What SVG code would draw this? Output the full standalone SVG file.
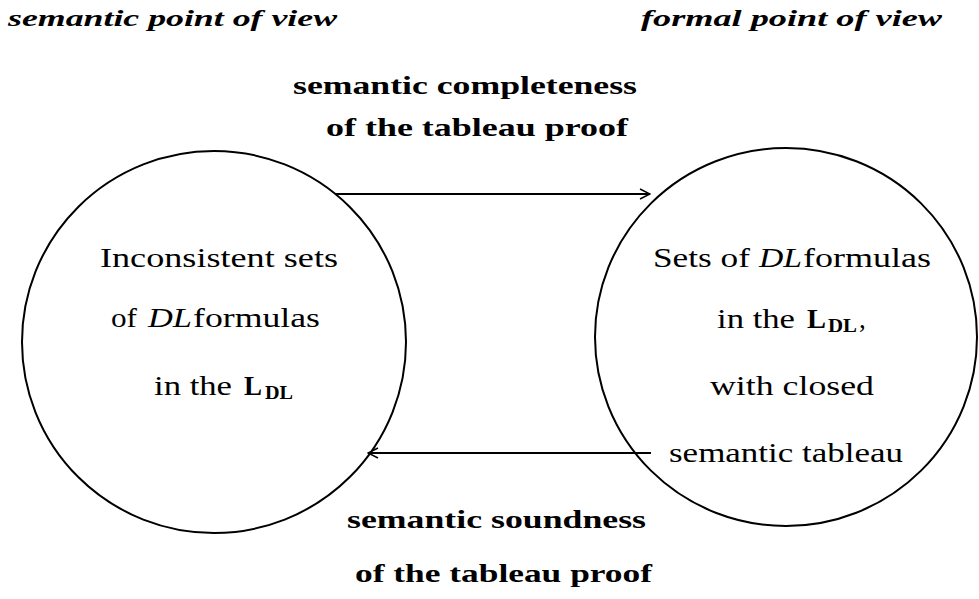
<svg xmlns="http://www.w3.org/2000/svg" width="979" height="599" viewBox="0 0 979 599">
<defs>
<style>
.hd{font-family:"Liberation Serif",serif;font-weight:bold;font-style:italic;font-size:24px;fill:#000}
.lb{font-family:"Liberation Serif",serif;font-weight:bold;font-size:25px;fill:#000}
.tx{font-family:"Liberation Serif",serif;font-size:27px;fill:#000}
.it{font-style:italic}
.bd{font-weight:bold}
.sub{font-weight:bold;font-size:18px}
.circ{fill:none;stroke:#000;stroke-width:2}
.conn{fill:none;stroke:#000;stroke-width:2}
</style>
<marker id="arr" viewBox="0 0 12 12" refX="11" refY="6" markerWidth="12" markerHeight="12" markerUnits="userSpaceOnUse" orient="auto">
<path d="M1,1 L11,6 L1,11" fill="none" stroke="#000" stroke-width="1.5"/>
</marker>
</defs>
<rect width="979" height="599" fill="#fff"/>
<g id="headers">
<text class="hd" x="8" y="26" textLength="329" lengthAdjust="spacingAndGlyphs">semantic point of view</text>
<text class="hd" x="641" y="26" textLength="301" lengthAdjust="spacingAndGlyphs">formal point of view</text>
</g>
<g id="left-node">
<ellipse class="circ" cx="214" cy="342" rx="192" ry="191"/>
<text class="tx" x="100" y="267" textLength="238" lengthAdjust="spacingAndGlyphs">Inconsistent sets</text>
<text class="tx" x="111" y="327" textLength="26" lengthAdjust="spacingAndGlyphs">of</text>
<text class="tx it" x="148" y="327" textLength="44" lengthAdjust="spacingAndGlyphs">DL</text>
<text class="tx" x="193" y="327" textLength="127" lengthAdjust="spacingAndGlyphs">formulas</text>
<text class="tx" x="154" y="395" textLength="78" lengthAdjust="spacingAndGlyphs">in the</text>
<text class="tx bd" x="244" y="395" textLength="18" lengthAdjust="spacingAndGlyphs">L</text>
<text class="tx sub" x="265" y="399" textLength="28" lengthAdjust="spacingAndGlyphs">DL</text>
</g>
<g id="right-node">
<ellipse class="circ" cx="786" cy="337" rx="191" ry="189"/>
<text class="tx" x="653" y="267" textLength="97" lengthAdjust="spacingAndGlyphs">Sets of</text>
<text class="tx it" x="759" y="267" textLength="43" lengthAdjust="spacingAndGlyphs">DL</text>
<text class="tx" x="803" y="267" textLength="128" lengthAdjust="spacingAndGlyphs">formulas</text>
<text class="tx" x="717" y="328" textLength="78" lengthAdjust="spacingAndGlyphs">in the</text>
<text class="tx bd" x="807" y="328" textLength="19" lengthAdjust="spacingAndGlyphs">L</text>
<text class="tx sub" x="828" y="332" textLength="29" lengthAdjust="spacingAndGlyphs">DL</text>
<text class="tx" x="859" y="328">,</text>
<text class="tx" x="710" y="395" textLength="164" lengthAdjust="spacingAndGlyphs">with closed</text>
<text class="tx" x="669" y="462" textLength="234" lengthAdjust="spacingAndGlyphs">semantic tableau</text>
</g>
<g id="connectors">
<line class="conn" x1="335" y1="194" x2="650" y2="194" marker-end="url(#arr)"/>
<line class="conn" x1="651" y1="453" x2="368" y2="453" marker-end="url(#arr)"/>
</g>
<g id="labels">
<text class="lb" x="293" y="94" textLength="344" lengthAdjust="spacingAndGlyphs">semantic completeness</text>
<text class="lb" x="326" y="136" textLength="302" lengthAdjust="spacingAndGlyphs">of the tableau proof</text>
<text class="lb" x="347" y="528" textLength="299" lengthAdjust="spacingAndGlyphs">semantic soundness</text>
<text class="lb" x="355" y="582" textLength="297" lengthAdjust="spacingAndGlyphs">of the tableau proof</text>
</g>
</svg>
